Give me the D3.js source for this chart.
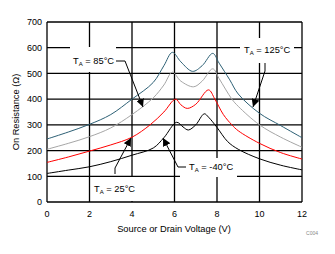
<!DOCTYPE html>
<html>
<head>
    <title>On Resistance vs Voltage</title>
    <style>
        body { margin: 0; background: #fff; font-family: "Liberation Sans", Arial, sans-serif; }
        svg { display: block; }
        .grid line { stroke: #000; stroke-width: 1.3; }
        .curve { fill: none; stroke-width: 1; }
        .lbl { font-size: 9.3px; fill: #000; }
        .tk { font-size: 9px; fill: #000; }
        .lead { stroke: #000; stroke-width: 1; fill: none; }
    </style>
</head>
<body>
    <svg id="chart" width="335" height="254"></svg>
    <script src="https://d3js.org/d3.v7.min.js"></script>
    <script>
        // voltage (V) and on resistance (ohm) per temperature
        const v125 = [0, 1, 2, 3, 4, 5, 5.5, 5.9, 6.3, 6.85, 7.3, 7.8, 8.1, 8.6, 9, 10, 11, 12];
        const r125 = [245, 272, 302, 340, 400, 465, 530, 582, 545, 508, 530, 578, 540, 475, 420, 345, 297, 250];
        const v85 = [0, 1, 2, 3, 4, 5, 5.5, 5.9, 6.3, 6.9, 7.3, 7.8, 8.1, 8.7, 9, 10, 11, 12];
        const r85 = [205, 228, 254, 288, 340, 405, 455, 505, 470, 448, 470, 518, 480, 400, 372, 300, 252, 213];
        const v25 = [0, 1, 2, 3, 4, 4.85, 5.5, 6.05, 6.3, 6.6, 7, 7.6, 7.9, 8.3, 8.7, 9, 10, 11, 12];
        const r25 = [154, 175, 198, 222, 252, 300, 350, 400, 378, 364, 380, 436, 400, 340, 300, 277, 228, 192, 167];
        const vM40 = [0, 1, 2, 3, 4, 5, 5.5, 6.1, 6.4, 6.65, 7, 7.4, 7.6, 8, 8.5, 9, 10, 11, 12];
        const rM40 = [111, 124, 137, 157, 182, 210, 250, 310, 292, 280, 300, 343, 330, 290, 235, 205, 168, 143, 125];

        const xTicks = [0, 2, 4, 6, 8, 10, 12];
        const yTicks = [0, 100, 200, 300, 400, 500, 600, 700];

        const series = [
            {v: v125, r: r125, color: "#2d6075"},
            {v: v85, r: r85, color: "#a6a6a6"},
            {v: v25, r: r25, color: "#ff0000"},
            {v: vM40, r: rM40, color: "#000000"}
        ];

        const svg = d3.select("#chart");
        const x = d3.scaleLinear().domain([0, 12]).range([47, 302]);
        const y = d3.scaleLinear().domain([0, 700]).range([202, 22]);

        // gridlines + frame
        const grid = svg.append("g").attr("class", "grid");
        grid.selectAll(".v").data(xTicks).enter().append("line")
            .attr("x1", d => x(d)).attr("x2", d => x(d))
            .attr("y1", y(0)).attr("y2", y(700));
        grid.selectAll(".h").data(yTicks).enter().append("line")
            .attr("x1", x(0)).attr("x2", x(12))
            .attr("y1", d => y(d)).attr("y2", d => y(d));

        // tick labels
        svg.append("g").selectAll("text").data(yTicks).enter().append("text")
            .attr("class", "tk")
            .attr("x", x(0) - 5).attr("y", d => y(d) + 3.3)
            .attr("text-anchor", "end")
            .text(d => d);
        svg.append("g").selectAll("text").data(xTicks).enter().append("text")
            .attr("class", "tk")
            .attr("x", d => x(d)).attr("y", 217)
            .attr("text-anchor", "middle")
            .text(d => d);

        // axis titles
        svg.append("text").attr("class", "lbl")
            .attr("x", 174).attr("y", 232).attr("text-anchor", "middle")
            .text("Source or Drain Voltage (V)");
        svg.append("text").attr("class", "lbl")
            .attr("transform", "translate(19,112) rotate(-90)")
            .attr("text-anchor", "middle")
            .text("On Resistance (Ω)");
        svg.append("text")
            .attr("x", 312).attr("y", 235).attr("text-anchor", "middle")
            .attr("font-size", 5).attr("fill", "#888")
            .text("C004");

        // white boxes behind annotation labels
        const boxes = [[70, 47, 46, 25], [240, 38, 54, 25], [92, 177, 46, 24], [180, 158, 57, 19]];
        svg.append("g").selectAll("rect").data(boxes).enter().append("rect")
            .attr("x", d => d[0]).attr("y", d => d[1])
            .attr("width", d => d[2]).attr("height", d => d[3])
            .attr("fill", "#fff");

        // curves
        const line = d3.line()
            .x(d => x(d[0])).y(d => y(d[1]))
            .curve(d3.curveCatmullRom.alpha(0.5));
        svg.append("g").selectAll("path").data(series).enter().append("path")
            .attr("class", "curve")
            .attr("stroke", d => d.color)
            .attr("d", d => line(d.v.map((v, i) => [v, d.r[i]])));

        // annotations
        svg.append("defs").append("marker")
            .attr("id", "arr").attr("viewBox", "0 0 10 10")
            .attr("refX", 10).attr("refY", 5)
            .attr("markerWidth", 8).attr("markerHeight", 8)
            .attr("markerUnits", "userSpaceOnUse")
            .attr("orient", "auto")
            .append("path").attr("d", "M0,0 L10,5 L0,10 Z").attr("fill", "#000");

        function label(tx, ty, temp) {
            const t = svg.append("text").attr("class", "lbl").attr("x", tx).attr("y", ty);
            t.append("tspan").text("T");
            t.append("tspan").attr("font-size", 6).attr("dy", 2).text("A");
            t.append("tspan").attr("dy", -2).text(" = " + temp + "°C");
        }
        label(73, 64, "85");
        svg.append("path").attr("class", "lead")
            .attr("d", "M116,61 L125,61 L143,107").attr("marker-end", "url(#arr)");

        label(244, 53, "125");
        svg.append("path").attr("class", "lead")
            .attr("d", "M265,63 L265,71 L253,107").attr("marker-end", "url(#arr)");

        label(94, 192, "25");
        svg.append("path").attr("class", "lead")
            .attr("d", "M115,174 L115,168 L131,138").attr("marker-end", "url(#arr)");

        label(189, 170, "-40");
        svg.append("path").attr("class", "lead")
            .attr("d", "M186,167 L178,167 L163,138").attr("marker-end", "url(#arr)");
    </script>
</body>
</html>
